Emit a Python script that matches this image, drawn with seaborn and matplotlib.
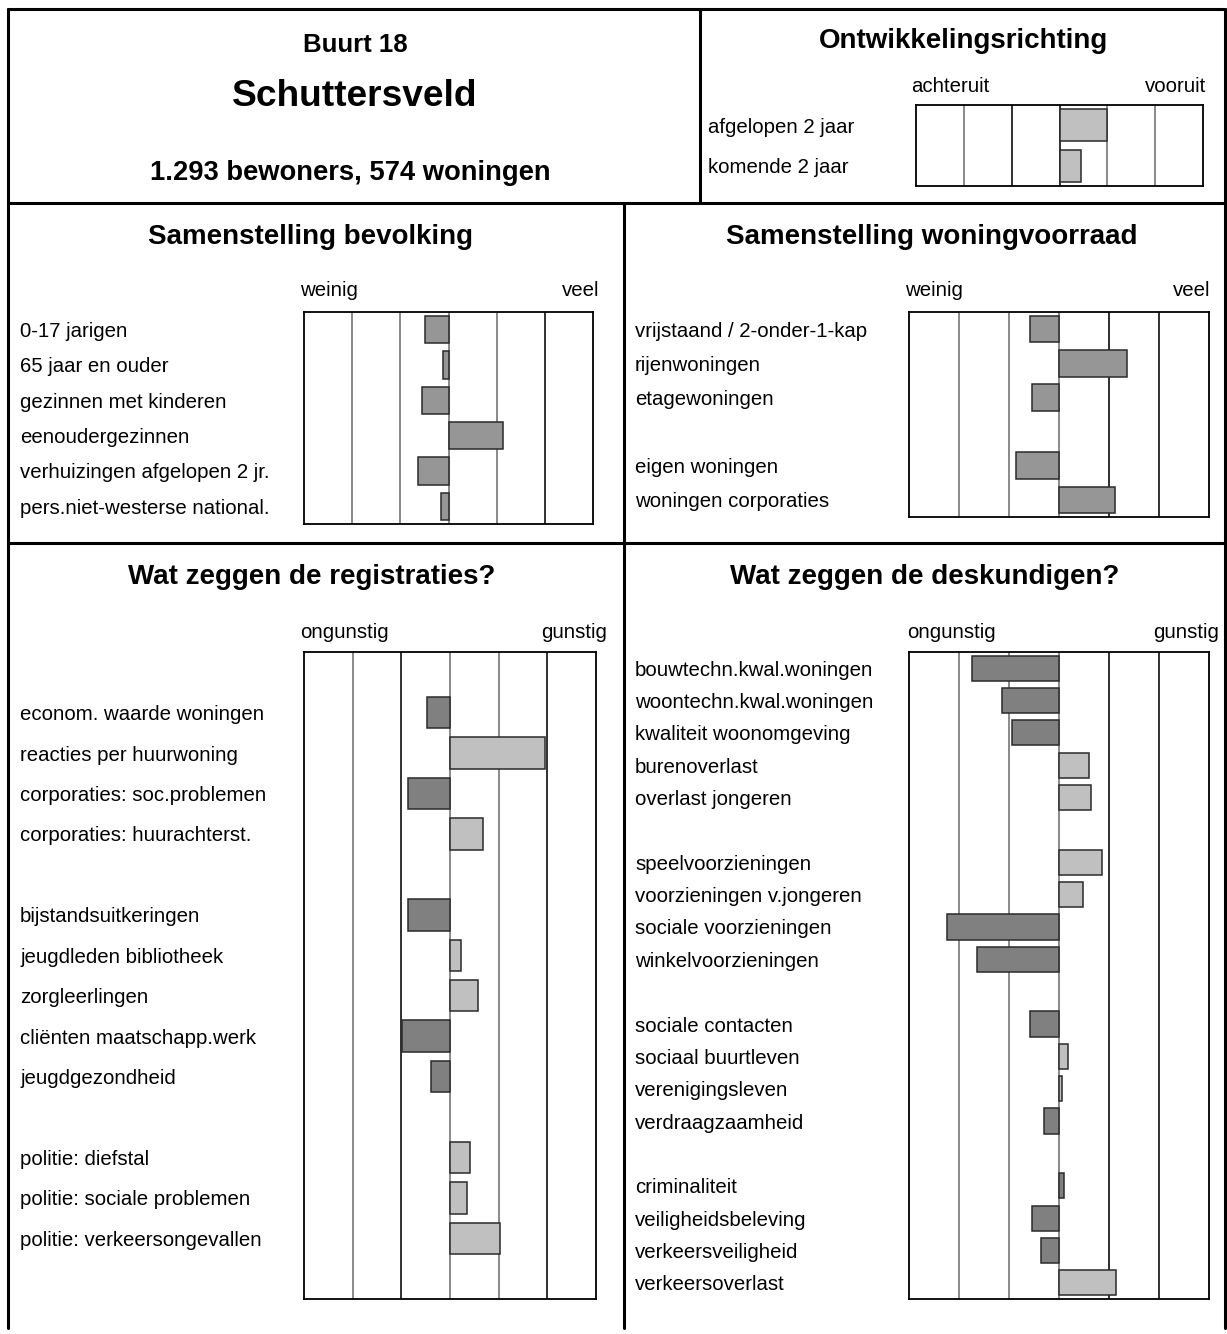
import seaborn as sns
import matplotlib.pyplot as plt
import pandas as pd
import numpy as np

# Buurtprofiel data (schaal -3 .. 3, midden = gemiddelde)
buurt_nr = "Buurt 18"
buurt_naam = "Schuttersveld"
buurt_info = "1.293 bewoners, 574 woningen"

ontw_labels = ['afgelopen 2 jaar', 'komende 2 jaar']
ontw_values = [1.0, 0.45]

bev_labels = ['0-17 jarigen', '65 jaar en ouder', 'gezinnen met kinderen',
              'eenoudergezinnen', 'verhuizingen afgelopen 2 jr.',
              'pers.niet-westerse national.']
bev_values = [-0.48, -0.12, -0.56, 1.14, -0.64, -0.15]

won_labels = ['vrijstaand / 2-onder-1-kap', 'rijenwoningen', 'etagewoningen', '',
              'eigen woningen', 'woningen corporaties']
won_values = [-0.59, 1.35, -0.54, None, -0.87, 1.11]

reg_labels = ['', 'econom. waarde woningen', 'reacties per huurwoning',
              'corporaties: soc.problemen', 'corporaties: huurachterst.', '',
              'bijstandsuitkeringen', 'jeugdleden bibliotheek', 'zorgleerlingen',
              'cliënten maatschapp.werk', 'jeugdgezondheid', '',
              'politie: diefstal', 'politie: sociale problemen',
              'politie: verkeersongevallen', '']
reg_values = [None, -0.47, 1.95, -0.86, 0.67, None, -0.87, 0.23, 0.58, -0.99,
              -0.39, None, 0.42, 0.34, 1.03, None]
reg_tone = [None, 'neg', 'pos', 'neg', 'pos', None, 'neg', 'pos', 'pos', 'neg',
            'neg', None, 'pos', 'pos', 'pos', None]

desk_labels = ['bouwtechn.kwal.woningen', 'woontechn.kwal.woningen',
               'kwaliteit woonomgeving', 'burenoverlast', 'overlast jongeren', '',
               'speelvoorzieningen', 'voorzieningen v.jongeren',
               'sociale voorzieningen', 'winkelvoorzieningen', '',
               'sociale contacten', 'sociaal buurtleven', 'verenigingsleven',
               'verdraagzaamheid', '', 'criminaliteit', 'veiligheidsbeleving',
               'verkeersveiligheid', 'verkeersoverlast']
desk_values = [-1.75, -1.14, -0.95, 0.59, 0.63, None, 0.85, 0.47, -2.25, -1.65,
               None, -0.58, 0.18, 0.05, -0.30, None, 0.09, -0.55, -0.37, 1.14]
desk_tone = ['neg', 'neg', 'neg', 'pos', 'pos', None, 'pos', 'pos', 'neg', 'neg',
             None, 'neg', 'pos', 'pos', 'neg', None, 'neg', 'neg', 'neg', 'pos']

sns.set_theme(style="white")
plt.rcParams['font.family'] = ['Liberation Sans', 'DejaVu Sans']
plt.rcParams['text.color'] = 'black'

W, H, DPI = 1227, 1334, 100
fig = plt.figure(figsize=(W / DPI, H / DPI), dpi=DPI)
bg = fig.add_axes([0, 0, 1, 1])
bg.set_xlim(0, W)
bg.set_ylim(H, 0)
bg.axis('off')

palette = {'neg': '#808080', 'pos': '#c0c0c0', 'mid': '#969696', 'ontw': '#c0c0c0'}
LABEL_FS = 14.7
TITLE_FS = 20


def panel(box, labels, values, tones, label_x, grid_colors):
    x0, y0, x1, y1 = box
    ax = fig.add_axes([x0 / W, 1 - y1 / H, (x1 - x0) / W, (y1 - y0) / H])
    # unique names for empty rows
    order = [lab if lab else ' ' * (i + 1) for i, lab in enumerate(labels)]
    df = pd.DataFrame({'label': order, 'value': values, 'tone': tones})
    df = df.dropna(subset=['value'])
    sns.barplot(data=df, x='value', y='label', hue='tone', palette=palette,
                order=order, orient='h', dodge=False, width=0.78,
                edgecolor='#2a2a2a', linewidth=1.1, legend=False, ax=ax)
    for xv, c in zip([-2, -1, 0, 1, 2], grid_colors):
        ax.axvline(xv, color=c, lw=1.3, zorder=0.5)
    ax.set_xlim(-3, 3)
    ax.set_ylim(len(order) - 0.5, -0.5)
    ax.set_xticks([])
    ax.set_xlabel('')
    ax.set_ylabel('')
    ax.set_yticks(range(len(order)))
    ax.set_yticklabels(order, ha='left', fontsize=LABEL_FS, color='black')
    ax.tick_params(axis='y', length=0, pad=(x0 - label_x) * 72 / DPI)
    for s in ax.spines.values():
        s.set_visible(True)
        s.set_color('black')
        s.set_linewidth(1.3)
    ax.set_facecolor('white')
    return ax


# frame lines
lw = 2.2
bg.plot([8, 1225], [9, 9], color='black', lw=lw)
bg.plot([8, 8], [9, 1328], color='black', lw=lw)
bg.plot([1225, 1225], [9, 1328], color='black', lw=lw)
bg.plot([8, 1225], [203, 203], color='black', lw=lw)
bg.plot([8, 1225], [543, 543], color='black', lw=lw)
bg.plot([700, 700], [9, 203], color='black', lw=lw)
bg.plot([624, 624], [203, 1328], color='black', lw=lw)

# header
bg.text(355, 45, buurt_nr, ha='center', va='center', fontsize=TITLE_FS - 1.5, fontweight='bold')
bg.text(355, 96, buurt_naam, ha='center', va='center', fontsize=26.7, fontweight='bold')
bg.text(350, 173, buurt_info, ha='center', va='center', fontsize=TITLE_FS - 0.3, fontweight='bold')
bg.text(963, 41, 'Ontwikkelingsrichting', ha='center', va='center', fontsize=TITLE_FS, fontweight='bold')
bg.text(911, 86, 'achteruit', ha='left', va='center', fontsize=LABEL_FS)
bg.text(1206, 86, 'vooruit', ha='right', va='center', fontsize=LABEL_FS)

bg.text(311, 237, 'Samenstelling bevolking', ha='center', va='center', fontsize=TITLE_FS, fontweight='bold')
bg.text(300, 290, 'weinig', ha='left', va='center', fontsize=LABEL_FS)
bg.text(599, 290, 'veel', ha='right', va='center', fontsize=LABEL_FS)
bg.text(932, 237, 'Samenstelling woningvoorraad', ha='center', va='center', fontsize=TITLE_FS, fontweight='bold')
bg.text(905, 290, 'weinig', ha='left', va='center', fontsize=LABEL_FS)
bg.text(1210, 290, 'veel', ha='right', va='center', fontsize=LABEL_FS)

bg.text(312, 577, 'Wat zeggen de registraties?', ha='center', va='center', fontsize=TITLE_FS, fontweight='bold')
bg.text(300, 632, 'ongunstig', ha='left', va='center', fontsize=LABEL_FS)
bg.text(607, 632, 'gunstig', ha='right', va='center', fontsize=LABEL_FS)
bg.text(925, 577, 'Wat zeggen de deskundigen?', ha='center', va='center', fontsize=TITLE_FS, fontweight='bold')
bg.text(907, 632, 'ongunstig', ha='left', va='center', fontsize=LABEL_FS)
bg.text(1219, 632, 'gunstig', ha='right', va='center', fontsize=LABEL_FS)

g1 = ['#808080', '#202020', '#202020', '#808080', '#808080']
g2 = ['#808080', '#808080', '#808080', '#808080', '#202020']
g3 = ['#808080', '#202020', '#808080', '#808080', '#202020']
g4 = ['#808080', '#808080', '#808080', '#202020', '#202020']

panel((916, 105, 1203, 186), ontw_labels, ontw_values, ['ontw'] * 2, 708, g1)
panel((304, 312, 593, 524), bev_labels, bev_values, ['mid'] * 6, 20, g2)
panel((909, 312, 1209, 517), won_labels, won_values,
      ['mid' if v is not None else None for v in won_values], 635, g4)
panel((304, 652, 596, 1299), reg_labels, reg_values, reg_tone, 20, g3)
panel((909, 652, 1209, 1299), desk_labels, desk_values, desk_tone, 635, g4)

fig.savefig('out.png', dpi=DPI)
